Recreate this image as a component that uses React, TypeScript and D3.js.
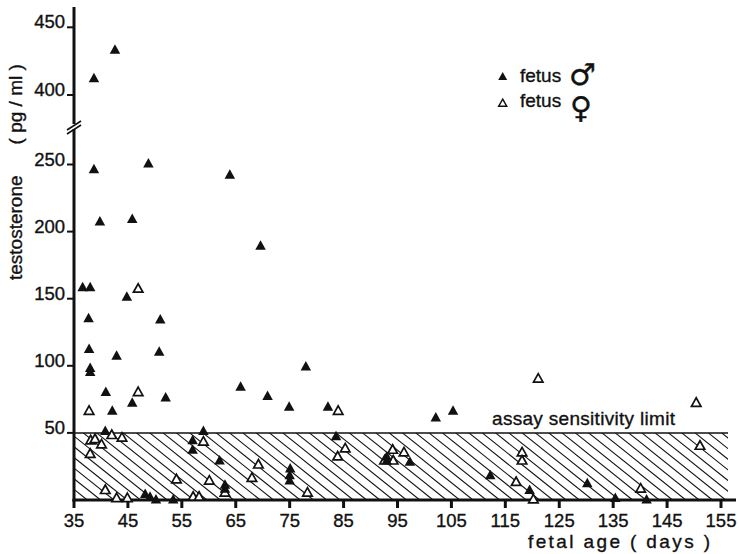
import React from 'react';
import * as d3 from 'd3';

// fetal age (days) / testosterone (pg/ml)
const maleAge = [38.7, 42.6, 38.7, 48.8, 63.9, 39.8, 45.8, 69.6, 36.6, 38.0, 44.8, 37.7, 51.0, 37.8, 42.9, 50.8, 38.0, 38.0, 40.9, 52.0, 45.8, 42.1, 65.9, 70.9, 78.0, 74.9, 82.1, 102.1, 105.3, 40.8, 59.0, 57.0, 57.0, 62.0, 63.0, 63.0, 48.2, 49.1, 50.2, 53.4, 75.1, 75.0, 75.0, 83.6, 93.0, 93.0, 97.3, 112.2, 119.5, 130.2, 135.4, 141.2];
const maleT = [413, 434, 247, 254, 243, 208, 210, 190, 159, 159, 152, 136, 135, 113, 108, 111, 99, 96, 81, 77, 73, 67, 85, 78, 100, 70, 70, 62, 67, 52, 52, 45, 38, 30, 9, 12, 5, 3, 1, 1, 24, 19, 15, 48, 33, 30, 29, 19, 8, 13, 2, 1];

const femaleAge = [46.9, 46.9, 37.8, 84.0, 121.1, 150.4, 42.0, 43.9, 38.1, 38.9, 40.1, 38.0, 40.8, 42.9, 44.9, 54.0, 59.0, 57.1, 58.2, 60.1, 63.0, 68.0, 69.2, 78.3, 85.3, 83.9, 94.1, 96.2, 94.2, 92.6, 118.1, 118.1, 117.0, 120.2, 140.1, 151.1];
const femaleT = [158, 81, 67, 67, 91, 73, 49, 47, 45, 46, 42, 35, 8, 2, 2, 16, 44, 3, 3, 15, 6, 17, 27, 6, 39, 33, 38, 36, 30, 30, 36, 30, 14, 1, 9, 41];

const xTicks = [35, 45, 55, 65, 75, 85, 95, 105, 115, 125, 135, 145, 155];
const yTicks = [50, 100, 150, 200, 250, 400, 450];
const sensitivityLimit = 50;

const font = "'Liberation Sans', Arial, sans-serif";
const ink = '#111';

const tri = (w: number, h: number) => `M0,${-h / 2}L${w / 2},${h / 2}L${-w / 2},${h / 2}Z`;

export default function App() {
  const x = d3.scaleLinear().domain([35, 155]).range([74, 721]);
  // broken axis: 250 -> 400 squeezed together
  const y = d3.scaleLinear().domain([0, 250, 400, 465]).range([500, 164.5, 95, 7]);

  const left = x(35);
  const right = 728;
  const top = y(sensitivityLimit);
  const bottom = y(0);
  const run = (bottom - top) / 0.8;
  const hatch = d3.range(left - run, right + 14, 13.3);

  const male = maleAge.map((a, i) => [a, maleT[i]]);
  const female = femaleAge.map((a, i) => [a, femaleT[i]]);

  // slightly heavier text, like the old print
  const txt = { fill: ink, stroke: ink, strokeWidth: 0.35 };

  return (
    <svg width={739} height={554} style={{ position: 'absolute', left: 0, top: 0 }} fontFamily={font}>
      <rect width={739} height={554} fill="#fff" />
      <defs>
        <clipPath id="band">
          <rect x={left} y={top} width={right - left} height={bottom - top} />
        </clipPath>
      </defs>

      {/* hatched region below sensitivity limit */}
      <g clipPath="url(#band)" stroke={ink} strokeWidth={1.1}>
        {hatch.map((h, i) => (
          <line key={i} x1={h} y1={top} x2={h + run} y2={bottom} />
        ))}
      </g>
      <line x1={left} x2={right} y1={top} y2={top} stroke={ink} strokeWidth={1.5} />
      <text x={492} y={425} fontSize={19} textLength={183} lengthAdjust="spacing" {...txt}>assay sensitivity limit</text>

      {/* axes */}
      <line x1={74} x2={74} y1={7} y2={501.5} stroke={ink} strokeWidth={3} />
      <line x1={72.5} x2={736} y1={500} y2={500} stroke={ink} strokeWidth={3} />
      <rect x={70} y={124} width={8} height={5} fill="#fff" />
      <line x1={67} y1={130} x2={81} y2={121} stroke={ink} strokeWidth={1.6} />
      <line x1={67} y1={134} x2={81} y2={125} stroke={ink} strokeWidth={1.6} />

      {xTicks.map(t => (
        <g key={t} transform={`translate(${x(t)},0)`}>
          <line y1={500} y2={508} stroke={ink} strokeWidth={3} />
          <text y={527} textAnchor="middle" fontSize={18.5} {...txt}>{t}</text>
        </g>
      ))}
      {yTicks.map(t => (
        <g key={t} transform={`translate(0,${y(t)})`}>
          <line x1={67} x2={74} stroke={ink} strokeWidth={2} />
          <text x={65} y={1} textAnchor="end" fontSize={18.5} {...txt}>{t}</text>
        </g>
      ))}

      <text x={528} y={548} fontSize={19} textLength={182} lengthAdjust="spacing" {...txt}>fetal age ( days )</text>
      <text transform="translate(22,280) rotate(-90)" fontSize={19} {...txt}>
        testosterone
        <tspan dx={31}>( pg / ml )</tspan>
      </text>

      {/* points */}
      {female.map((d, i) => (
        <path key={'f' + i} d={tri(9.5, 8.5)} transform={`translate(${x(d[0])},${y(d[1])})`} fill="#fff" stroke={ink} strokeWidth={1.7} />
      ))}
      {male.map((d, i) => (
        <path key={'m' + i} d={tri(10.5, 9.5)} transform={`translate(${x(d[0])},${y(d[1])})`} fill={ink} />
      ))}

      {/* legend */}
      <path d={tri(9, 8)} transform="translate(502.7,76)" fill={ink} />
      <text x={520} y={82} fontSize={19} {...txt}>fetus</text>
      <text x={569} y={85} fontSize={30} fontFamily="'DejaVu Sans', sans-serif" {...txt}>♂</text>
      <path d={tri(8, 7)} transform="translate(502.7,102.7)" fill="#fff" stroke={ink} strokeWidth={1.5} />
      <text x={520} y={107} fontSize={19} {...txt}>fetus</text>
      <text x={570} y={118} fontSize={30} fontFamily="'DejaVu Sans', sans-serif" {...txt}>♀</text>
    </svg>
  );
}
